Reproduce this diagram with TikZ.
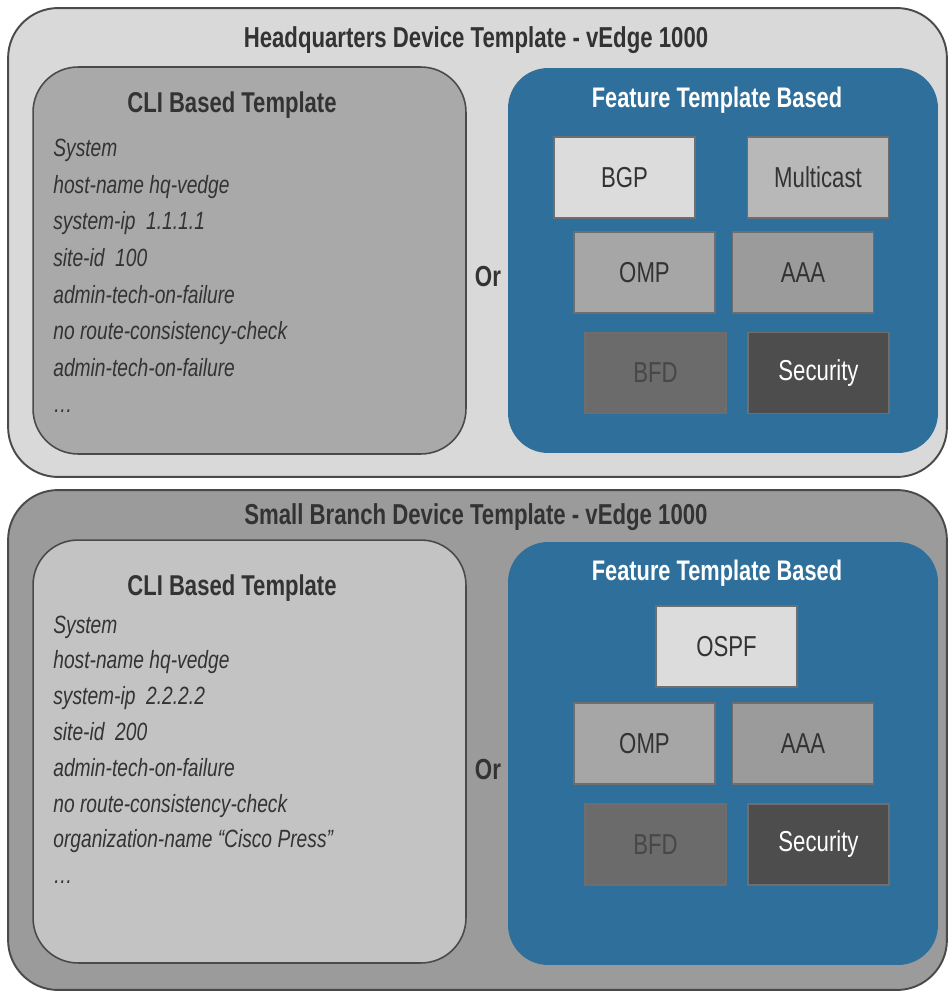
\documentclass[tikz,border=0pt]{standalone}
\usepackage{fontspec}
\setmainfont{Liberation Sans}[FakeStretch=0.77]
\usepackage{tikz}
\usetikzlibrary{positioning}
\definecolor{panelLight}{HTML}{D9D9D9}
\definecolor{panelDark}{HTML}{9B9B9B}
\definecolor{cliDark}{HTML}{A9A9A9}
\definecolor{cliLight}{HTML}{C3C3C3}
\definecolor{featBlue}{HTML}{2F6F9B}
\definecolor{edgeGray}{HTML}{4A4A4A}
\definecolor{textGray}{HTML}{333333}
\definecolor{featA}{HTML}{DCDCDC}
\definecolor{featB}{HTML}{B8B8B8}
\definecolor{featC}{HTML}{A6A6A6}
\definecolor{featD}{HTML}{9B9B9B}
\definecolor{featE}{HTML}{6B6B6B}
\definecolor{featF}{HTML}{4D4D4D}

\begin{document}
\begin{tikzpicture}[
            x=0.02cm, y=-0.02cm,
            every node/.style={text=textGray},
            outerbox/.style={
                draw=edgeGray,
                line width=1.1pt,
                rounded corners=1cm,
                minimum width=18.78cm,
                inner sep=0pt
            },
            clibox/.style={
                draw=edgeGray,
                line width=0.9pt,
                rounded corners=0.9cm,
                minimum width=8.66cm,
                inner sep=0pt
            },
            bluebox/.style={
                fill=featBlue,
                rounded corners=0.8cm,
                minimum width=8.6cm,
                inner sep=0pt
            },
            featbox/.style={
                draw=edgeGray!80,
                line width=0.8pt,
                minimum width=2.82cm,
                minimum height=1.62cm,
                inner sep=0pt,
                font=\fontsize{16.4}{18}\selectfont
            },
            headtitle/.style={font=\fontsize{16.4}{19}\selectfont\bfseries},
            clititle/.style={font=\fontsize{16.3}{19}\selectfont\bfseries},
            feattitle/.style={font=\fontsize{16.1}{19}\selectfont\bfseries, text=white},
            cliline/.style={anchor=base west, inner sep=0pt, font=\fontsize{14.2}{16}\selectfont\itshape},
            orlabel/.style={font=\fontsize{16.5}{19}\selectfont\bfseries}
        ]
        \useasboundingbox (0,0) rectangle (952,993);

        %---------------- Headquarters ----------------%
        \node[outerbox, fill=panelLight, minimum height=9.38cm] (hq) at (477.5,242.5) {};
        \node[headtitle] (hqtitle) at (476,40) {Headquarters Device Template - vEdge 1000};

        \node[clibox, fill=cliDark, minimum height=7.74cm] (hqcli) at (249.5,260.5) {};
        \node[clititle] (hqclititle) at (232,105) {CLI Based Template};
        \foreach \txt [count=\i] in {System, host-name hq-vedge, system-ip\ \ 1.1.1.1,
                site-id\ \ 100, admin-tech-on-failure, no route-consistency-check,
                admin-tech-on-failure, \ldots}
            \node[cliline] (hqline\i) at (53,{157+36.5*(\i-1)}) {\txt};

        \node[orlabel] (hqor) at (488,277) {Or};

        \node[bluebox, minimum height=7.7cm] (hqfeat) at (723,260.5) {};
        \node[feattitle] (hqfeattitle) at (717,100) {Feature Template Based};
        \node[featbox, fill=featA] (hqbgp) at (624.5,177.5) {BGP};
        \node[featbox, fill=featB] (hqmcast) at (818,177.5) {Multicast};
        \node[featbox, fill=featC] (hqomp) at (644.5,272.5) {OMP};
        \node[featbox, fill=featD] (hqaaa) at (803,272.5) {AAA};
        \node[featbox, fill=featE, text=black!72] (hqbfd) at (655.5,373) {BFD};
        \node[featbox, fill=featF, text=white] (hqsec) at (818.5,373) {Security};

        %---------------- Small Branch ----------------%
        \node[outerbox, fill=panelDark, minimum height=10cm] (br) at (477.5,740) {};
        \node[headtitle] (brtitle) at (476,517) {Small Branch Device Template - vEdge 1000};

        \node[clibox, fill=cliLight, minimum height=8.46cm] (brcli) at (249.5,751.5) {};
        \node[clititle] (brclititle) at (232,588) {CLI Based Template};
        \foreach \txt [count=\i] in {System, host-name hq-vedge, system-ip\ \ 2.2.2.2,
                site-id\ \ 200, admin-tech-on-failure, no route-consistency-check,
                organization-name “Cisco Press”, \ldots}
            \node[cliline] (brline\i) at (53,{633+35.8*(\i-1)}) {\txt};

        \node[orlabel] (bror) at (488,770) {Or};

        \node[bluebox, minimum height=8.46cm] (brfeat) at (723,753.5) {};
        \node[feattitle] (brfeattitle) at (717,573) {Feature Template Based};
        \node[featbox, fill=featA] (brospf) at (726.5,646.5) {OSPF};
        \node[featbox, fill=featC] (bromp) at (644.5,743.5) {OMP};
        \node[featbox, fill=featD] (braaa) at (803,743.5) {AAA};
        \node[featbox, fill=featE, text=black!72] (brbfd) at (655.5,844.5) {BFD};
        \node[featbox, fill=featF, text=white] (brsec) at (818.5,844.5) {Security};

\end{tikzpicture}
\end{document}
